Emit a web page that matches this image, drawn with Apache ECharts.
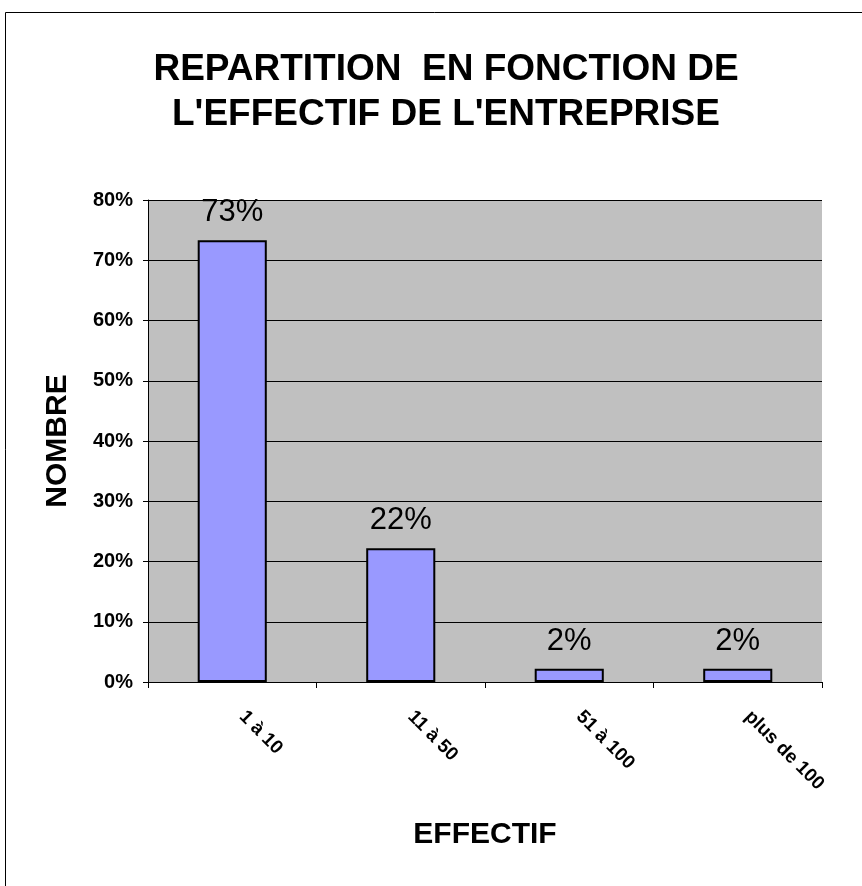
<!DOCTYPE html>
<html>
<head>
<meta charset="utf-8">
<script src="https://cdn.jsdelivr.net/npm/echarts@6/dist/echarts.min.js"></script>
<style>
	html, body { margin: 0; padding: 0; background: #fff; }
	#chart { width: 862px; height: 886px; }
</style>
</head>
<body>
<div id="chart"></div>
<script>
var categories = ['1 à 10', '11 à 50', '51 à 100', 'plus de 100'];
var values = [73.3, 22.2, 2.2, 2.2];
var yTicks = [0, 10, 20, 30, 40, 50, 60, 70, 80];

var font = 'Liberation Sans, Arial, sans-serif';
var chart = echarts.init(document.getElementById('chart'));
var option = {
	animation: false,
	backgroundColor: '#ffffff',
	graphic: [{
		type: 'rect',
		shape: { x: 5.5, y: 12.5, width: 900, height: 900 },
		style: { fill: 'none', stroke: '#000', lineWidth: 1 },
		silent: true
	}],
	title: {
		text: "REPARTITION  EN FONCTION DE\nL'EFFECTIF DE L'ENTREPRISE",
		left: 441,
		textAlign: 'center',
		top: 42,
		textStyle: {
			fontFamily: font,
			fontSize: 37,
			fontWeight: 'bold',
			lineHeight: 45,
			color: '#000'
		}
	},
	grid: {
		left: 148,
		right: 40,
		top: 200,
		bottom: 204,
		show: true,
		backgroundColor: '#c0c0c0',
		borderWidth: 0
	},
	xAxis: {
		type: 'category',
		data: categories,
		name: 'EFFECTIF',
		nameLocation: 'middle',
		nameGap: 138,
		nameTextStyle: { fontFamily: font, fontSize: 30, fontWeight: 'bold', color: '#000' },
		axisLine: { lineStyle: { color: '#000', width: 1 } },
		axisTick: { show: true, length: 6, lineStyle: { color: '#000' } },
		axisLabel: {
			interval: 0,
			rotate: -45,
			margin: 22,
			padding: [0, 0, 0, 14],
			fontFamily: font,
			fontSize: 19,
			fontWeight: 'bold',
			color: '#000'
		}
	},
	yAxis: {
		type: 'value',
		min: 0,
		max: 80,
		interval: 10,
		name: 'NOMBRE',
		nameLocation: 'middle',
		nameGap: 75,
		nameRotate: 90,
		nameTextStyle: { fontFamily: font, fontSize: 30, fontWeight: 'bold', color: '#000' },
		axisLine: { show: true, lineStyle: { color: '#000', width: 1 } },
		axisTick: { show: true, length: 5, lineStyle: { color: '#000' } },
		axisLabel: {
			margin: 15,
			fontFamily: font,
			fontSize: 20,
			fontWeight: 'bold',
			color: '#000',
			formatter: function(v) {
				return yTicks.indexOf(v) >= 0 ? v + '%' : '';
			}
		},
		splitLine: { show: true, lineStyle: { color: '#000', width: 1 } }
	},
	series: [{
		type: 'bar',
		data: values,
		barWidth: '41%',
		itemStyle: {
			color: '#9999ff',
			borderColor: '#000',
			borderWidth: 2
		},
		label: {
			show: true,
			position: 'top',
			distance: 12,
			fontFamily: font,
			fontSize: 31,
			color: '#000',
			formatter: function(p) {
				return Math.round(p.value) + '%';
			}
		}
	}]
};
chart.setOption(option);
</script>
</body>
</html>
